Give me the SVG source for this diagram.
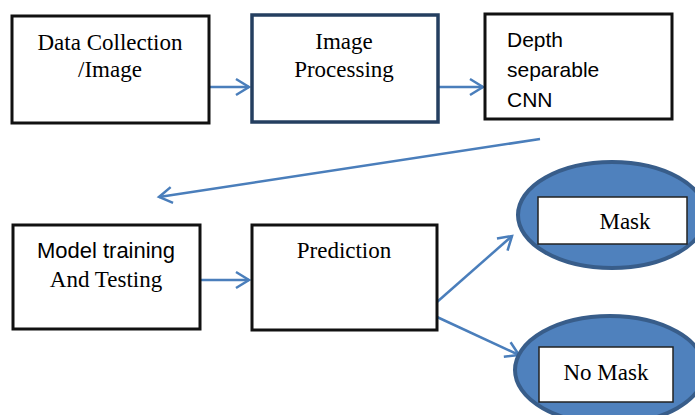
<svg xmlns="http://www.w3.org/2000/svg" width="695" height="415" viewBox="0 0 695 415">
<defs>
<style>
.box{fill:#fff;stroke:#111;stroke-width:3}
.box2{fill:#fff;stroke:#243F60;stroke-width:3.5}
.ell{fill:#4F81BD;stroke:#385D8A;stroke-width:4}
.inner{fill:#fff;stroke:#222;stroke-width:1.5}
.serif{font-family:"Liberation Serif","Times New Roman",serif;font-size:23px;fill:#000}
.sans{font-family:"Liberation Sans",Arial,sans-serif;font-size:21px;fill:#000}
.conn{fill:none;stroke:#4A7EBB;stroke-width:2.5}
</style>
<marker id="arr" markerUnits="userSpaceOnUse" markerWidth="18" markerHeight="20" refX="14" refY="9" orient="auto" overflow="visible">
<path d="M1,1 L14,9 L1,17" fill="none" stroke="#4A7EBB" stroke-width="2.5"/>
</marker>
</defs>
<g id="connectors">
<line class="conn" x1="209" y1="87" x2="249" y2="87" marker-end="url(#arr)"/>
<line class="conn" x1="438" y1="87" x2="483" y2="87" marker-end="url(#arr)"/>
<line class="conn" x1="540" y1="139" x2="159" y2="197" marker-end="url(#arr)"/>
<line class="conn" x1="200" y1="280" x2="249" y2="280" marker-end="url(#arr)"/>
<line class="conn" x1="437" y1="302" x2="512" y2="236" marker-end="url(#arr)"/>
<line class="conn" x1="437" y1="317" x2="519" y2="355" marker-end="url(#arr)"/>
</g>
<g id="data-collection">
<rect class="box" x="12" y="16" width="197" height="107"/>
<text class="serif" x="110" y="50" text-anchor="middle">Data Collection</text>
<text class="serif" x="110" y="77" text-anchor="middle">/Image</text>
</g>
<g id="image-processing">
<rect class="box2" x="252" y="15" width="186" height="107"/>
<text class="serif" x="344" y="49" text-anchor="middle">Image</text>
<text class="serif" x="344" y="77" text-anchor="middle">Processing</text>
</g>
<g id="depth-cnn">
<rect class="box" x="485" y="14" width="187" height="105"/>
<text class="sans" x="507" y="47">Depth</text>
<text class="sans" x="507" y="77">separable</text>
<text class="sans" x="507" y="107">CNN</text>
</g>
<g id="model-training">
<rect class="box" x="13" y="225" width="187" height="104"/>
<text class="sans" x="106" y="258" text-anchor="middle" style="font-size:22px">Model training</text>
<text x="106" y="287" text-anchor="middle" font-family="'Liberation Serif','Times New Roman',serif" font-size="23" fill="#000">And Testing</text>
</g>
<g id="prediction">
<rect class="box" x="252" y="225" width="185" height="105"/>
<text class="serif" x="344" y="258" text-anchor="middle">Prediction</text>
</g>
<g id="mask">
<ellipse class="ell" cx="612" cy="215" rx="94" ry="53"/>
<rect class="inner" x="538" y="197" width="149" height="47"/>
<text class="serif" x="625" y="229" text-anchor="middle">Mask</text>
</g>
<g id="no-mask">
<ellipse class="ell" cx="610" cy="370" rx="95" ry="54"/>
<rect class="inner" x="539" y="347" width="134" height="55"/>
<text class="serif" x="606" y="380" text-anchor="middle">No Mask</text>
</g>
</svg>
